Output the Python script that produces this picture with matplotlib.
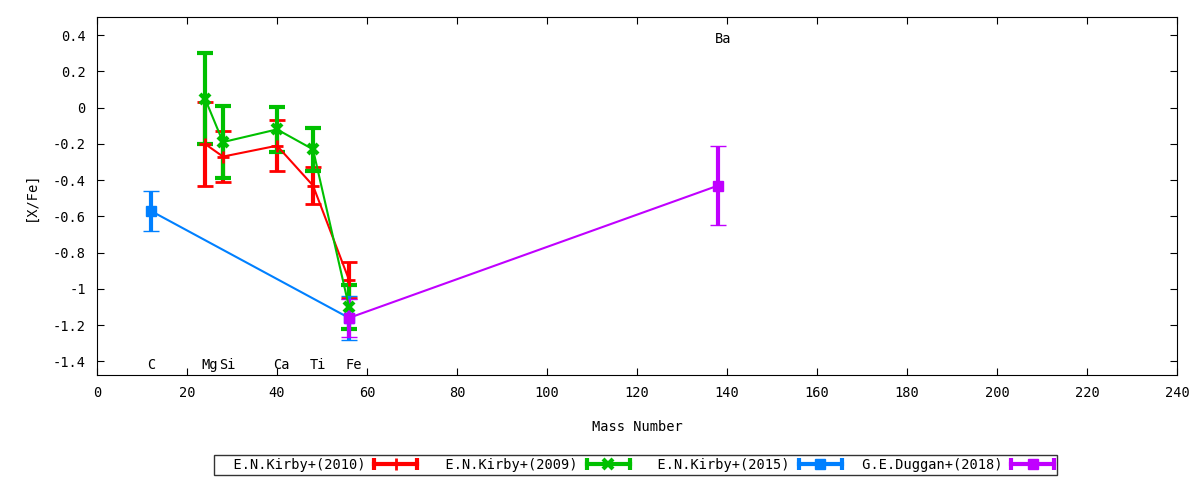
import matplotlib
matplotlib.use("Agg")
import matplotlib.pyplot as plt
from matplotlib.lines import Line2D
from matplotlib.legend_handler import HandlerLine2D, HandlerTuple

plt.rcParams["font.family"] = ["DejaVu Sans Mono"]
plt.rcParams["axes.unicode_minus"] = False

# E.N.Kirby+(2010)
mass_k10 = [24, 28, 40, 48, 56]
xfe_k10 = [-0.20, -0.27, -0.21, -0.43, -0.95]
err_k10 = [0.23, 0.14, 0.14, 0.10, 0.10]

# E.N.Kirby+(2009)
mass_k09 = [24, 28, 40, 48, 56]
xfe_k09 = [0.05, -0.19, -0.12, -0.23, -1.10]
err_k09 = [0.25, 0.20, 0.125, 0.12, 0.12]

# E.N.Kirby+(2015)
mass_k15 = [12, 56]
xfe_k15 = [-0.57, -1.16]
err_k15 = [0.11, 0.12]

# G.E.Duggan+(2018)
mass_d18 = [56, 138]
xfe_d18 = [-1.16, -0.43]
err_d18 = [0.105, 0.22]

elements = ["C", "Mg", "Si", "Ca", "Ti", "Fe", "Ba"]
elem_mass = [12, 24, 28, 40, 48, 56, 138]
elem_y = [-1.42, -1.42, -1.42, -1.42, -1.42, -1.42, 0.38]

series = [
    ("E.N.Kirby+(2010)", mass_k10, xfe_k10, err_k10, "#ff0000", "+", 9, 2),
    ("E.N.Kirby+(2009)", mass_k09, xfe_k09, err_k09, "#00c000", "x", 7, 3),
    ("E.N.Kirby+(2015)", mass_k15, xfe_k15, err_k15, "#0080ff", "s", 7, 1),
    ("G.E.Duggan+(2018)", mass_d18, xfe_d18, err_d18, "#c000ff", "s", 7, 1),
]

fs = 9.8

fig = plt.figure(figsize=(12, 4.8), dpi=100)
ax = fig.add_axes([0.0808, 0.21875, 0.9002, 0.7458])

handles = []
labels = []
hmap = {}
for lab, x, y, e, col, mk, ms, mew in series:
    ax.errorbar(x, y, yerr=e, fmt="-", color=col, lw=1.5, elinewidth=3,
                capsize=6, capthick=3, marker=mk, ms=ms, mew=mew)
    base = Line2D([0], [0], color=col, lw=3, marker="|", ms=9, mew=3)
    mid = Line2D([0], [0], color=col, lw=0, marker=mk, ms=ms, mew=mew)
    hmap[base] = HandlerLine2D(numpoints=2, marker_pad=0)
    hmap[mid] = HandlerLine2D(numpoints=1)
    handles.append((base, mid))
    # gnuplot right-aligns the key text in fixed-width columns
    labels.append(lab.rjust(18))

for name, m, yy in zip(elements, elem_mass, elem_y):
    ax.text(m - 0.8, yy, name, ha="left", va="center", fontsize=fs)

ax.set_xlim(0, 240)
ax.set_ylim(-1.475, 0.5)
ax.set_xticks(range(0, 241, 20))
yt = [0.4, 0.2, 0, -0.2, -0.4, -0.6, -0.8, -1, -1.2, -1.4]
ax.set_yticks(yt)
ax.set_yticklabels([("%g" % v) for v in yt])
ax.tick_params(direction="in", top=True, right=True, length=5, labelsize=fs, pad=8)
ax.set_xlabel("Mass Number", fontsize=fs, labelpad=14)
ax.set_ylabel("[X/Fe]", fontsize=fs, labelpad=11)

hmap[tuple] = HandlerTuple(ndivide=1, pad=0)
leg = fig.legend(handles, labels,
                 handler_map=hmap, loc="center", bbox_to_anchor=(0.5296, 0.031),
                 ncol=4, markerfirst=False, fancybox=False, edgecolor="black",
                 fontsize=fs, handlelength=3.16, handletextpad=0.66,
                 columnspacing=0.87, borderpad=0.2, borderaxespad=0)
leg.get_frame().set_linewidth(1)

fig.savefig("out.png", dpi=100)
